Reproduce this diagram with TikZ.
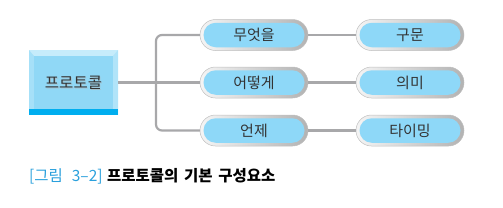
\documentclass[tikz,border=0pt]{standalone}
\usepackage{fontspec}
\setmainfont{Noto Sans CJK KR}
\newfontfamily\kr{Noto Sans CJK KR}
\newfontfamily\krwide[WordSpace=1.6]{Noto Sans CJK KR}
\usetikzlibrary{positioning}
\definecolor{pillblue}{HTML}{8ED8F8}
\definecolor{boxface}{HTML}{90D8F6}
\definecolor{boxbevel}{HTML}{C6ECFB}
\definecolor{boxband}{HTML}{00AEEF}
\definecolor{linegray}{HTML}{A8A8AA}
\definecolor{txt}{HTML}{333333}
\definecolor{capblue}{HTML}{2AA0DC}
\tikzset{
  pillouter/.style={minimum width=108pt, minimum height=31pt, rounded corners=15.5pt,
    left color=gray!8, right color=gray!60, draw=gray!50, line width=0.5pt, inner sep=0pt},
  pillinner/.style={minimum width=101pt, minimum height=24.5pt, rounded corners=12.25pt,
    fill=pillblue, inner sep=0pt, font=\kr\fontsize{15}{16}\selectfont, text=txt},
  conn/.style={draw=linegray, line width=2.2pt},
}
\begin{document}
\begin{tikzpicture}[x=1pt,y=-1pt]
\useasboundingbox (0,0) rectangle (503,207);
\coordinate (trunk) at (156,82.5);
\node[minimum width=89pt, minimum height=65pt, inner sep=0pt] (proto) at (73.5,82.5) {};
% left box
\fill[boxbevel] (29,50) rectangle (118,115);
\fill[boxface!80!white] (29,50) -- (34,56) -- (34,109) -- (29,115) -- cycle;
\fill[boxface!70!white] (118,50) -- (113,56) -- (113,109) -- (118,115) -- cycle;
\fill[boxface] (34,56) rectangle (113,109);
\fill[boxband] (29,109) rectangle (118,115);
\node[font=\kr\fontsize{15.5}{16}\selectfont, text=gray!60, opacity=0.6] at (74.3,83.3) {프로토콜};
\node[font=\kr\fontsize{15.5}{16}\selectfont, text=txt] (protot) at (73.5,82.5) {프로토콜};
% pills column 1
\node[pillouter] (what) at (254,35) {};
\node[pillinner] at (what.center) {무엇을};
\node[pillouter] (how) at (254,82.5) {};
\node[pillinner] at (how.center) {어떻게};
\node[pillouter] (when) at (254,130.5) {};
\node[pillinner] at (when.center) {언제};
% pills column 2
\node[pillouter] (syntax) at (410,35) {};
\node[pillinner] at (syntax.center) {구문};
\node[pillouter] (sem) at (410,82.5) {};
\node[pillinner] at (sem.center) {의미};
\node[pillouter] (timing) at (410,130.5) {};
\node[pillinner] at (timing.center) {타이밍};
% connectors
\draw[conn] (proto.east) -- (how.west);
\draw[conn, rounded corners=6pt] (what.west) -| (trunk) |- (when.west);
\draw[conn] (what.east) -- (syntax.west);
\draw[conn] (how.east) -- (sem.west);
\draw[conn] (when.east) -- (timing.west);
% caption
\node[anchor=west, inner sep=0pt, font=\krwide\fontsize{15.5}{16}\selectfont, text=capblue] (cap1) at (29,176) {[그림 3–2]};
\node[anchor=west, inner sep=0pt, font=\krwide\bfseries\fontsize{15.5}{16}\selectfont, text=black] (cap2) at (107,176) {프로토콜의 기본 구성요소};
\end{tikzpicture}
\end{document}
